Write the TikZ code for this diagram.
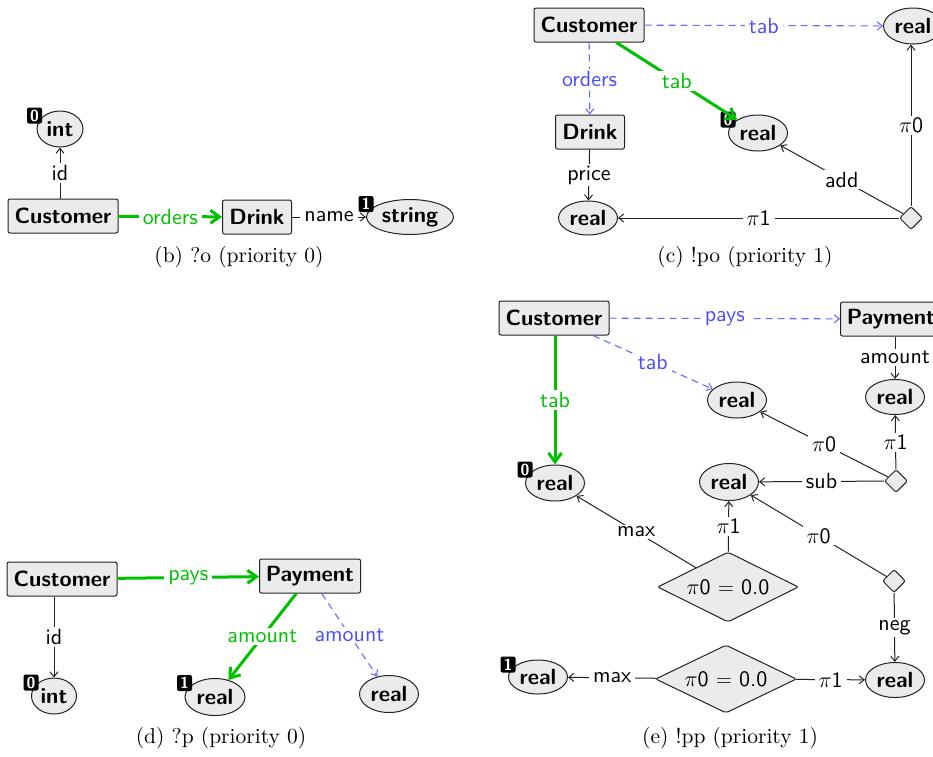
\RequirePackage{fix-cm}
\documentclass[tikz,border=0pt]{standalone}
\usepackage{fontspec}
\setmainfont{lmroman10-regular}[Extension=.otf]
\setsansfont{lmsans10-regular}[Extension=.otf, BoldFont=lmsans10-bold]
\usetikzlibrary{shapes.geometric,arrows.meta}
\definecolor{selg}{HTML}{00C000}
\definecolor{altb}{HTML}{4D4DFF}
\definecolor{altl}{HTML}{6A6AFF}
\definecolor{nfill}{HTML}{EBEBEB}
\definecolor{nline}{HTML}{222222}
\newcommand{\fsz}{\fontsize{22}{26}\selectfont}
\tikzset{
  box/.style={draw=nline, line width=1pt, fill=nfill, rounded corners=2pt, minimum width=110pt, minimum height=34pt, inner xsep=2pt, inner ysep=0pt, font=\fsz\sffamily\bfseries},
  ell/.style={ellipse, draw=nline, line width=1pt, fill=nfill, minimum width=59pt, minimum height=36pt, inner sep=0pt, font=\fsz\sffamily\bfseries},
  smalldia/.style={diamond, draw=nline, line width=1pt, fill=nfill, rounded corners=2pt, minimum width=23pt, minimum height=23pt, inner sep=0pt},
  bigdia/.style={diamond, aspect=2, draw=nline, line width=1pt, fill=nfill, rounded corners=2pt, minimum width=141pt, minimum height=70pt, inner sep=0pt, font=\fsz\sffamily},
  badge/.style={fill=black, text=white, rounded corners=2pt, minimum width=15pt, minimum height=16pt, inner sep=0pt, font=\fontsize{16}{18}\selectfont\sffamily\bfseries},
  lbl/.style={fill=white, inner xsep=4pt, inner ysep=2pt, font=\fsz\sffamily},
  edg/.style={draw=nline, line width=1pt, -{Straight Barb[length=5pt,width=8pt]}},
  sel/.style={draw=selg, line width=3pt, -{Straight Barb[length=9pt,width=13pt]}},
  alt/.style={draw=altl, line width=1.1pt, dash pattern=on 7pt off 5pt, -{Straight Barb[length=5pt,width=8pt]}},
  captxt/.style={font=\fontsize{21.5}{25}\selectfont\rmfamily},
}
\begin{document}
\begin{tikzpicture}[x=1pt,y=-1pt]
\useasboundingbox (0,0) rectangle (933,756);
% ---------- (b)
\node[box] (bC) at (63,216) {Customer};
\node[ell, minimum width=46pt] (bI) at (60,129) {int};
\node[badge] (bI0) at ([xshift=-2pt,yshift=-5pt]bI.west |- bI.north) {0};
\node[box, minimum width=69pt] (bD) at (257,217) {Drink};
\node[ell, minimum width=87pt, minimum height=35pt] (bS) at (410,217) {string};
\node[badge] (bS1) at ([yshift=-5pt]bS.west |- bS.north) {1};
\draw[edg] (bI.south |- bC.north) -- node[lbl]{id} (bI.south);
\draw[sel] (bC) -- node[lbl, text=selg]{orders} (bD);
\draw[edg] (bD) -- node[lbl]{name} (bS);
\node[captxt] (capb) at (239,257) {(b) ?o (priority 0)};
% ---------- (c)
\node[box] (cC) at (589,25) {Customer};
\node[ell] (cR1) at (913,26) {real};
\node[box, minimum width=69pt] (cD) at (590,132) {Drink};
\node[ell, minimum height=34pt] (cR2) at (588,218) {real};
\node[ell] (cR3) at (758,133) {real};
\node[badge] (cR30) at ([yshift=-5pt]cR3.west |- cR3.north) {0};
\node[smalldia] (cX) at (911,218) {};
\draw[alt] (cC) -- node[lbl, text=altb]{tab} (cR1);
\draw[alt] (cC) -- node[lbl, text=altb]{orders} (cD);
\draw[sel] (cC) -- node[lbl, text=selg]{tab} (cR3);
\draw[edg] (cD) -- node[lbl]{price} (cR2);
\draw[edg] (cX) -- node[lbl]{$\pi$0} (cX |- cR1.south);
\draw[edg] (cX) -- node[lbl]{add} (cR3);
\draw[edg] (cX) -- node[lbl]{$\pi$1} (cR2);
\node[captxt] (capc) at (745,257) {(c) !po (priority 1)};
% ---------- (d)
\node[box] (dC) at (62,579) {Customer};
\node[ell, minimum width=45pt] (dI) at (54,696) {int};
\node[badge] (dI0) at ([yshift=-5pt]dI.west |- dI.north) {0};
\node[box, minimum width=101pt] (dP) at (310,576) {Payment};
\node[ell, minimum width=60pt, minimum height=37pt] (dR1) at (215,697) {real};
\node[badge] (dR11) at ([yshift=-5pt]dR1.west |- dR1.north) {1};
\node[ell, minimum height=37pt] (dR2) at (389,694) {real};
\draw[edg] (dI.north |- dC.south) -- node[lbl]{id} (dI.north);
\draw[sel] (dC) -- node[lbl, text=selg]{pays} (dP);
\draw[sel] (dP) -- node[lbl, text=selg]{amount} (dR1);
\draw[alt] (dP) -- node[lbl, text=altb]{amount} (dR2);
\node[captxt] (capd) at (221,738) {(d) ?p (priority 0)};
% ---------- (e)
\node[box] (eC) at (554,318) {Customer};
\node[box, minimum width=101pt] (eP) at (891,319) {Payment};
\node[ell] (eRt) at (737,400) {real};
\node[ell, minimum height=35pt] (eRp) at (895,397) {real};
\node[ell] (eR0) at (555,483) {real};
\node[badge] (eR00) at ([yshift=-5pt]eR0.west |- eR0.north) {0};
\node[smalldia] (eX1) at (896,481) {};
\node[ell, minimum height=37pt] (eRm) at (729,482) {real};
\node[bigdia] (eB1) at (728,587) {$\pi$0 $=$ 0.0};
\node[smalldia] (eX2) at (894,581) {};
\node[ell, minimum height=35pt] (eRb) at (895,680) {real};
\node[bigdia, minimum height=68pt] (eB2) at (726,679) {$\pi$0 $=$ 0.0};
\node[ell, minimum height=34pt] (eR1) at (538,677) {real};
\node[badge] (eR11) at ([yshift=-5pt]eR1.west |- eR1.north) {1};
\draw[alt] (eC) -- node[lbl, text=altb]{pays} (eP);
\draw[alt] (eC) -- node[lbl, text=altb]{tab} (eRt);
\draw[sel] (eR0.north |- eC.south) -- node[lbl, text=selg]{tab} (eR0.north);
\draw[edg] (eRp.north |- eP.south) -- node[lbl]{amount} (eRp.north);
\draw[edg] (eX1) -- node[lbl]{$\pi$1} (eRp);
\draw[edg] (eX1) -- node[lbl]{$\pi$0} (eRt);
\draw[edg] (eX1) -- node[lbl]{sub} (eRm);
\draw[edg] (eB1) -- node[lbl]{$\pi$1} (eRm);
\draw[edg] (eB1) -- node[lbl]{max} (eR0);
\draw[edg] (eX2) -- node[lbl]{$\pi$0} (eRm);
\draw[edg] (eX2) -- node[lbl]{neg} (eRb);
\draw[edg] (eB2) -- node[lbl]{max} (eR1);
\draw[edg] (eB2) -- node[lbl]{$\pi$1} (eRb);
\node[captxt] (cape) at (730,738) {(e) !pp (priority 1)};
\end{tikzpicture}
\end{document}
